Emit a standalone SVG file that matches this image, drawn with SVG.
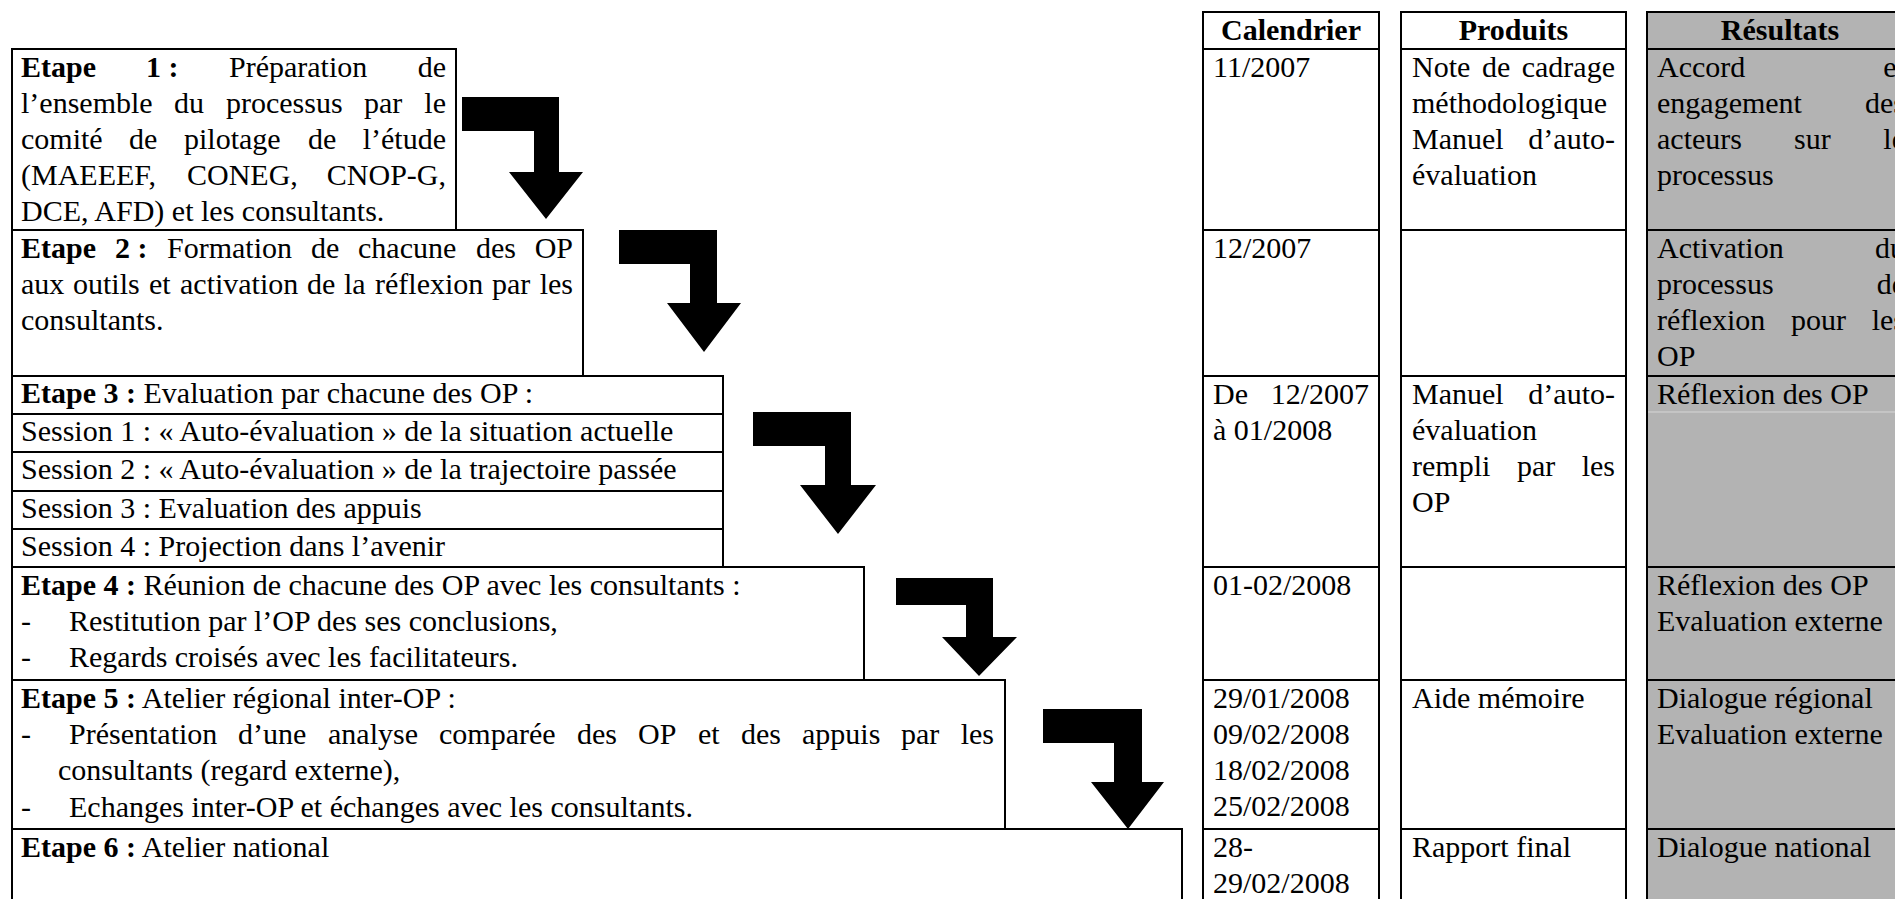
<svg xmlns="http://www.w3.org/2000/svg" width="1895" height="899" viewBox="0 0 1895 899">
<style>
.t{font-family:"Liberation Serif","Times New Roman",serif;font-size:30px;fill:#000}
.b{font-weight:bold}
.box{fill:#fff;stroke:#000;stroke-width:2}
.gbox{fill:#b3b3b3;stroke:#000;stroke-width:2}
.ln{stroke:#000;stroke-width:2}
.arr{fill:#000}
.e{text-anchor:end}
.m{text-anchor:middle}
</style>
<rect width="1895" height="899" fill="#fff"/>

<g id="etape1">
<rect class="box" x="12" y="49" width="444" height="181"/>
<text class="t" y="77"><tspan class="b" x="21">Etape</tspan><tspan class="b" x="146">1 :</tspan><tspan x="229">Préparation</tspan></text>
<text class="t e" x="446" y="77">de</text>
<text class="t" y="113"><tspan x="21">l’ensemble</tspan><tspan x="174">du</tspan><tspan x="226">processus</tspan><tspan x="364">par</tspan></text>
<text class="t e" x="446" y="113">le</text>
<text class="t" y="149"><tspan x="21">comité</tspan><tspan x="129">de</tspan><tspan x="184">pilotage</tspan><tspan x="308">de</tspan></text>
<text class="t e" x="446" y="149">l’étude</text>
<text class="t" y="185"><tspan x="21">(MAEEEF,</tspan><tspan x="187">CONEG,</tspan></text>
<text class="t e" x="446" y="185">CNOP-G,</text>
<text class="t" x="21" y="221">DCE, AFD) et les consultants.</text>
</g>

<g id="etape2">
<rect class="box" x="12" y="230" width="571" height="146"/>
<text class="t" y="258"><tspan class="b" x="21">Etape</tspan><tspan class="b" x="115">2 :</tspan><tspan x="167">Formation</tspan><tspan x="311">de</tspan><tspan x="358">chacune</tspan><tspan x="476">des</tspan></text>
<text class="t e" x="573" y="258">OP</text>
<text class="t" y="294"><tspan x="21">aux</tspan><tspan x="73">outils</tspan><tspan x="149">et</tspan><tspan x="180">activation</tspan><tspan x="307">de</tspan><tspan x="344">la</tspan><tspan x="375">réflexion</tspan><tspan x="492">par</tspan></text>
<text class="t e" x="573" y="294">les</text>
<text class="t" x="21" y="330">consultants.</text>
</g>

<g id="etape3">
<rect class="box" x="12" y="376" width="711" height="191"/>
<line class="ln" x1="12" y1="414" x2="723" y2="414"/>
<line class="ln" x1="12" y1="452" x2="723" y2="452"/>
<line class="ln" x1="12" y1="491" x2="723" y2="491"/>
<line class="ln" x1="12" y1="529" x2="723" y2="529"/>
<text class="t" x="21" y="403"><tspan class="b">Etape 3 :</tspan> Evaluation par chacune des OP :</text>
<text class="t" x="21" y="441">Session 1 : « Auto-évaluation » de la situation actuelle</text>
<text class="t" x="21" y="479">Session 2 : « Auto-évaluation » de la trajectoire passée</text>
<text class="t" x="21" y="518">Session 3 : Evaluation des appuis</text>
<text class="t" x="21" y="556">Session 4 : Projection dans l’avenir</text>
</g>

<g id="etape4">
<rect class="box" x="12" y="567" width="852" height="113"/>
<text class="t" x="21" y="595"><tspan class="b">Etape 4 :</tspan> Réunion de chacune des OP avec les consultants :</text>
<text class="t" x="21" y="631">-</text>
<text class="t" x="69" y="631">Restitution par l’OP des ses conclusions,</text>
<text class="t" x="21" y="667">-</text>
<text class="t" x="69" y="667">Regards croisés avec les facilitateurs.</text>
</g>

<g id="etape5">
<rect class="box" x="12" y="680" width="993" height="149"/>
<text class="t" x="21" y="708"><tspan class="b">Etape 5 :</tspan> Atelier régional inter-OP :</text>
<text class="t" x="21" y="744">-</text>
<text class="t" y="744"><tspan x="69">Présentation</tspan><tspan x="238">d’une</tspan><tspan x="328">analyse</tspan><tspan x="439">comparée</tspan><tspan x="577">des</tspan><tspan x="638">OP</tspan><tspan x="698">et</tspan><tspan x="741">des</tspan><tspan x="802">appuis</tspan><tspan x="901">par</tspan></text>
<text class="t e" x="994" y="744">les</text>
<text class="t" x="58" y="780">consultants (regard externe),</text>
<text class="t" x="21" y="817">-</text>
<text class="t" x="69" y="817">Echanges inter-OP et échanges avec les consultants.</text>
</g>

<g id="etape6">
<rect class="box" x="12" y="829" width="1170" height="80"/>
<text class="t" x="21" y="857"><tspan class="b">Etape 6 :</tspan> Atelier national</text>
</g>

<g id="calendrier">
<rect class="box" x="1203" y="12" width="176" height="37"/>
<text class="t b m" x="1291" y="40">Calendrier</text>
<rect class="box" x="1203" y="49" width="176" height="181"/>
<rect class="box" x="1203" y="230" width="176" height="146"/>
<rect class="box" x="1203" y="376" width="176" height="191"/>
<rect class="box" x="1203" y="567" width="176" height="113"/>
<rect class="box" x="1203" y="680" width="176" height="149"/>
<rect class="box" x="1203" y="829" width="176" height="80"/>
<text class="t" x="1213" y="77">11/2007</text>
<text class="t" x="1213" y="258">12/2007</text>
<text class="t" x="1213" y="404">De</text>
<text class="t e" x="1369" y="404">12/2007</text>
<text class="t" x="1213" y="440">à 01/2008</text>
<text class="t" x="1213" y="595">01-02/2008</text>
<text class="t" x="1213" y="708">29/01/2008</text>
<text class="t" x="1213" y="744">09/02/2008</text>
<text class="t" x="1213" y="780">18/02/2008</text>
<text class="t" x="1213" y="816">25/02/2008</text>
<text class="t" x="1213" y="857">28-</text>
<text class="t" x="1213" y="893">29/02/2008</text>
</g>

<g id="produits">
<rect class="box" x="1401" y="12" width="225" height="37"/>
<text class="t b m" x="1513.5" y="40">Produits</text>
<rect class="box" x="1401" y="49" width="225" height="181"/>
<rect class="box" x="1401" y="230" width="225" height="146"/>
<rect class="box" x="1401" y="376" width="225" height="191"/>
<rect class="box" x="1401" y="567" width="225" height="113"/>
<rect class="box" x="1401" y="680" width="225" height="149"/>
<rect class="box" x="1401" y="829" width="225" height="80"/>
<text class="t" y="77"><tspan x="1412">Note</tspan><tspan x="1482">de</tspan></text>
<text class="t e" x="1615" y="77">cadrage</text>
<text class="t" x="1412" y="113">méthodologique</text>
<text class="t" x="1412" y="149">Manuel</text>
<text class="t e" x="1615" y="149">d’auto-</text>
<text class="t" x="1412" y="185">évaluation</text>
<text class="t" x="1412" y="404">Manuel</text>
<text class="t e" x="1615" y="404">d’auto-</text>
<text class="t" x="1412" y="440">évaluation</text>
<text class="t" y="476"><tspan x="1412">rempli</tspan><tspan x="1517">par</tspan></text>
<text class="t e" x="1615" y="476">les</text>
<text class="t" x="1412" y="512">OP</text>
<text class="t" x="1412" y="708">Aide mémoire</text>
<text class="t" x="1412" y="857">Rapport final</text>
</g>

<g id="resultats">
<rect class="gbox" x="1647" y="12" width="266" height="37"/>
<text class="t b m" x="1780" y="40">Résultats</text>
<rect class="gbox" x="1647" y="49" width="266" height="181"/>
<rect class="gbox" x="1647" y="230" width="266" height="146"/>
<rect class="gbox" x="1647" y="376" width="266" height="191"/>
<line x1="1648" y1="412" x2="1895" y2="412" stroke="#d6d6d6" stroke-width="1"/>
<rect class="gbox" x="1647" y="567" width="266" height="113"/>
<rect class="gbox" x="1647" y="680" width="266" height="149"/>
<rect class="gbox" x="1647" y="829" width="266" height="80"/>
<text class="t" x="1657" y="77">Accord</text>
<text class="t e" x="1905" y="77">et</text>
<text class="t" x="1657" y="113">engagement</text>
<text class="t e" x="1905" y="113">des</text>
<text class="t" y="149"><tspan x="1657">acteurs</tspan><tspan x="1794">sur</tspan></text>
<text class="t e" x="1905" y="149">le</text>
<text class="t" x="1657" y="185">processus</text>
<text class="t" x="1657" y="258">Activation</text>
<text class="t e" x="1905" y="258">du</text>
<text class="t" x="1657" y="294">processus</text>
<text class="t e" x="1905" y="294">de</text>
<text class="t" y="330"><tspan x="1657">réflexion</tspan><tspan x="1791">pour</tspan></text>
<text class="t e" x="1905" y="330">les</text>
<text class="t" x="1657" y="366">OP</text>
<text class="t" x="1657" y="404">Réflexion des OP</text>
<text class="t" x="1657" y="595">Réflexion des OP</text>
<text class="t" x="1657" y="631">Evaluation externe</text>
<text class="t" x="1657" y="708">Dialogue régional</text>
<text class="t" x="1657" y="744">Evaluation externe</text>
<text class="t" x="1657" y="857">Dialogue national</text>
</g>

<g id="connectors">
<polygon class="arr" points="462,97 559,97 559,172 583,172 546,219 509,172 534,172 534,131 462,131"/>
<polygon class="arr" points="619,230 717,230 717,303 741,303 704,352 667,303 690,303 690,264 619,264"/>
<polygon class="arr" points="753,412 851,412 851,485 876,485 838,534 800,485 825,485 825,446 753,446"/>
<polygon class="arr" points="896,578 993,578 993,637 1017,637 979,676 942,637 966,637 966,605 896,605"/>
<polygon class="arr" points="1043,709 1142,709 1142,782 1164,782 1128,829 1091,782 1114,782 1114,743 1043,743"/>
</g>
</svg>
